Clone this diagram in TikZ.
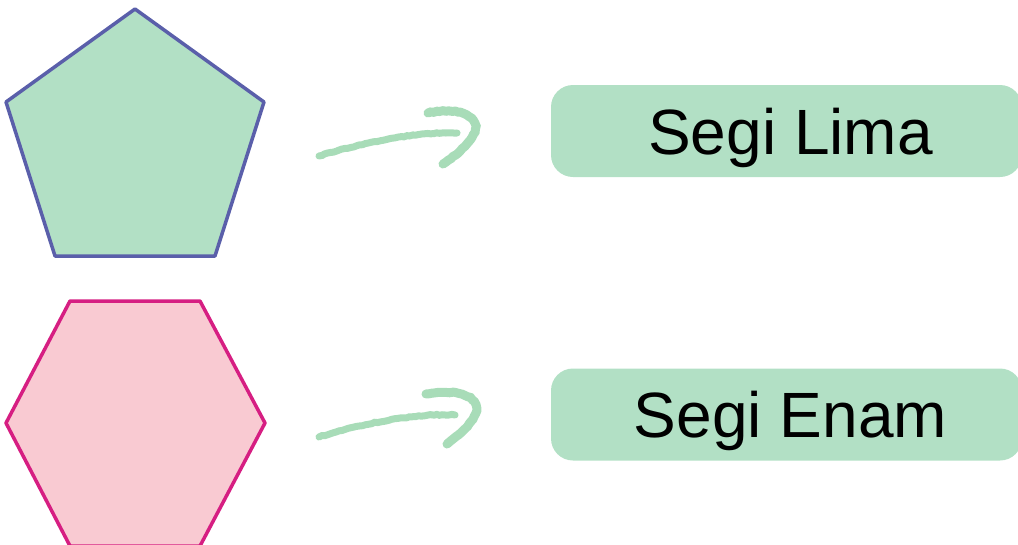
\documentclass[tikz,border=0pt]{standalone}
\usepackage{fontspec}
\setmainfont{Liberation Sans}
\usepackage{tikz}
\usetikzlibrary{positioning,decorations.pathmorphing}
\definecolor{mint}{RGB}{178,224,197}
\definecolor{brushgreen}{RGB}{168,220,184}
\definecolor{pentline}{RGB}{90,95,170}
\definecolor{hexfill}{RGB}{249,202,210}
\definecolor{hexline}{RGB}{214,30,130}
\tikzset{
  namebox/.style={fill=mint, rounded corners=22pt, minimum width=471pt, minimum height=92pt, inner sep=0pt, text depth=0pt, font=\fontsize{64}{68}\selectfont},
  brush/.style={draw=brushgreen, line width=9pt, line cap=round, decorate, decoration={random steps, segment length=3pt, amplitude=0.5pt}}
}

\begin{document}
\begin{tikzpicture}[x=1pt, y=-1pt]
  \useasboundingbox (0,0) rectangle (1018,544);
  \clip (0,0) rectangle (1018,544);
  % pentagon
  \draw[pentline, fill=mint, line width=3.5pt, line join=round]
    (135,9) -- (264,102) -- (215,256) -- (55,256) -- (6,102) -- cycle;
  % hexagon
  \draw[hexline, fill=hexfill, line width=3.5pt, line join=round]
    (70,301) -- (200,301) -- (265,423) -- (200,546) -- (70,546) -- (6,423) -- cycle;
  % labels
  \node[namebox] (lima) at (786.5,131) {\hspace*{8pt}Segi Lima};
  \node[namebox] (enam) at (786.5,414.5) {\hspace*{8pt}Segi Enam};
  % arrows
  \coordinate (a1) at (319,156);
  \coordinate (b1) at (457,133);
  \coordinate (c1) at (428,113);
  \coordinate (d1) at (443,164);
  \coordinate (a2) at (319,437);
  \coordinate (b2) at (455,415);
  \coordinate (c2) at (426,394);
  \coordinate (d2) at (447,444);
  \path[brush, line width=7pt] (a1) .. controls (365,142) and (415,132) .. (b1);
  \path[brush] (c1) .. controls (470,104) and (502,125) .. (d1);
  \path[brush, line width=7pt] (a2) .. controls (365,423) and (415,413) .. (b2);
  \path[brush] (c2) .. controls (470,386) and (502,405) .. (d2);
\end{tikzpicture}
\end{document}
